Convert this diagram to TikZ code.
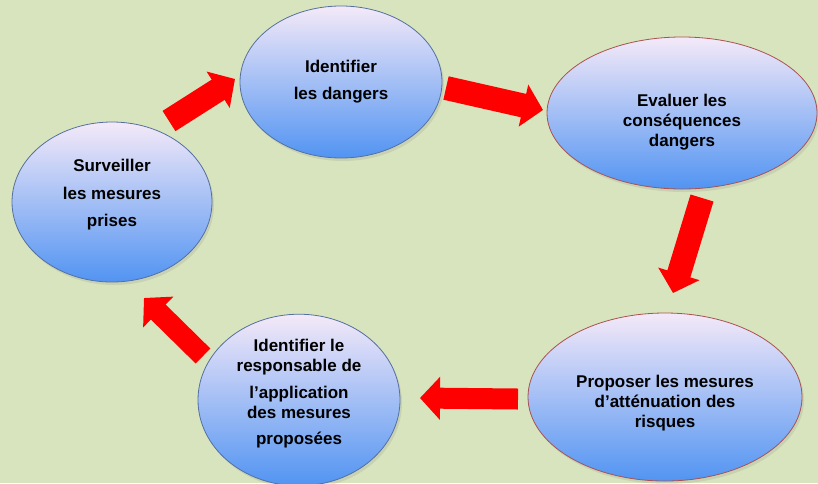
\documentclass[tikz,border=0pt]{standalone}
\usepackage{fontspec}
\setmainfont{Liberation Sans}
\usetikzlibrary{arrows.meta,shadows,shapes.geometric}

\definecolor{bgcol}{RGB}{216,228,190}
\definecolor{topcol}{RGB}{244,233,248}
\definecolor{midcol}{RGB}{156,200,247}
\definecolor{botcol}{RGB}{82,148,242}
\definecolor{blueline}{RGB}{84,112,160}
\definecolor{redline}{RGB}{168,82,82}

\newcommand{\padtop}[1]{\rule{0pt}{#1}}
\newcommand{\padbot}[1]{\rule[-#1]{0pt}{#1}}

\begin{document}
\begin{tikzpicture}[x=1pt,y=-1pt,
        bubble/.style={ellipse,draw=blueline,line width=0.8pt,inner sep=0pt,
            top color=topcol,middle color=midcol,bottom color=botcol,
            drop shadow={opacity=0.18,shadow xshift=2pt,shadow yshift=-3pt},
            align=center,font=\fontsize{17}{20}\selectfont\bfseries},
        flow/.style={draw=red,line width=24pt,-{Triangle[length=20pt,width=42pt]}}]
    \fill[bgcol] (0,0) rectangle (818,483);
    \useasboundingbox (0,0) rectangle (818,483);

    \node[bubble,minimum width=202,minimum height=152] (danger) at (341,82)
        {Identifier\\[7pt]les dangers};
    \node[bubble,draw=redline,minimum width=270,minimum height=152] (evalue) at (682,113)
        {\padtop{31pt}Evaluer les\\conséquences\\dangers};
    \node[bubble,draw=redline,minimum width=274,minimum height=168] (propose) at (665,397)
        {\padtop{25pt}Proposer les mesures\\d’atténuation des\\risques};
    \node[bubble,minimum width=202,minimum height=160] (respons) at (299,400)
        {Identifier le\\responsable de\\[7pt]l’application\\des mesures\\[6pt]proposées\padbot{16pt}};
    \node[bubble,minimum width=200,minimum height=160] (surveille) at (112,202)
        {Surveiller\\[8pt]les mesures\\[7pt]prises\padbot{18pt}};

    % ends of the block arrows
    \coordinate (s1) at (169,121);  \coordinate (t1) at (235,79);
    \coordinate (s2) at (446,88);   \coordinate (t2) at (543,110);
    \coordinate (s3) at (702,198);  \coordinate (t3) at (673,293);
    \coordinate (s4) at (518,399);  \coordinate (t4) at (420,398);
    \coordinate (s5) at (203,356);  \coordinate (t5) at (144,298);

    \draw[flow] (s1) -- (t1);
    \draw[flow] (s2) -- (t2);
    \draw[flow] (s3) -- (t3);
    \draw[flow,line width=21pt] (s4) -- (t4);
    \draw[flow,line width=21pt] (s5) -- (t5);

\end{tikzpicture}
\end{document}
